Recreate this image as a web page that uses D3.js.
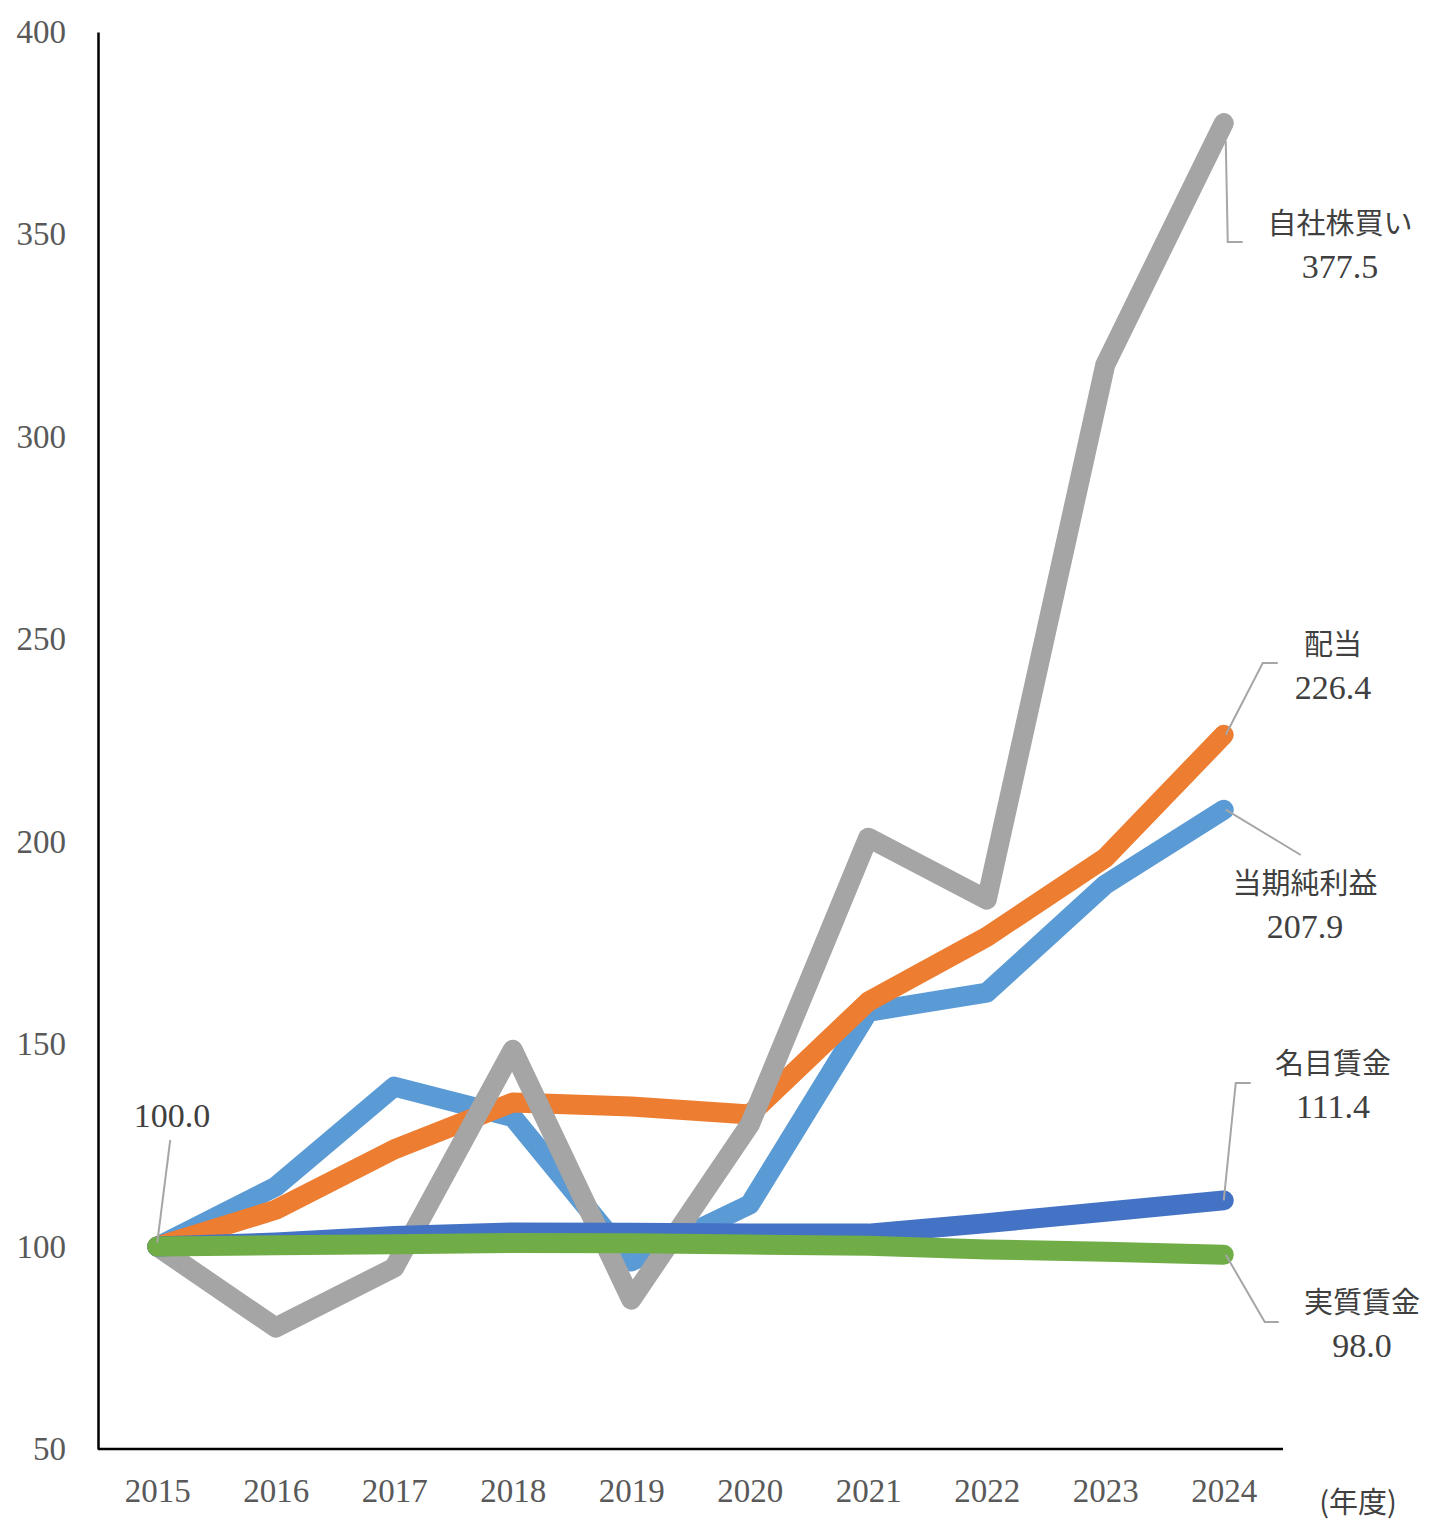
<!DOCTYPE html>
<html lang="ja">
<head>
<meta charset="utf-8">
<script src="https://cdn.jsdelivr.net/npm/d3@7"></script>
<style>
  html, body { margin: 0; padding: 0; background: #fff; }
  svg { display: block; }
  .num { font-family: "Liberation Serif", "Noto Sans CJK JP", serif; }
</style>
</head>
<body>
<svg id="chart"></svg>
<script>
const years = ["2015", "2016", "2017", "2018", "2019", "2020", "2021", "2022", "2023", "2024"];
const yTicks = [50, 100, 150, 200, 250, 300, 350, 400];

// 描画順 = Excel の系列順 (後ろほど上に重なる)
const seriesNames = ["当期純利益", "配当", "自社株買い", "名目賃金", "実質賃金"];
const netIncome = [100, 114.8, 139.5, 132.0, 96.3, 110.4, 158.0, 162.7, 189.4, 207.9];
const dividends = [100, 109.1, 124.0, 135.6, 134.6, 132.6, 160.5, 176.5, 196.0, 226.4];
const buybacks = [100, 80.0, 94.8, 148.6, 86.9, 130.1, 201.0, 185.7, 317.8, 377.5];
const nominalWage = [100, 101.0, 102.6, 103.5, 103.4, 103.2, 103.2, 105.8, 108.6, 111.4];
const realWage = [100, 100.3, 100.6, 100.9, 100.8, 100.5, 100.2, 99.3, 98.7, 98.0];
const seriesColors = ["#5b9bd5", "#ed7d31", "#a5a5a5", "#4472c4", "#70ad47"];

const width = 1430;
const height = 1524;
const margin = { top: 32, right: 147, bottom: 75, left: 98 };

const svg = d3.select("#chart").attr("width", width).attr("height", height);

const x = d3.scalePoint()
  .domain(years)
  .range([margin.left, width - margin.right])
  .padding(0.5);

const y = d3.scaleLinear()
  .domain([50, 400])
  .range([height - margin.bottom, margin.top]);

const allSeries = [netIncome, dividends, buybacks, nominalWage, realWage].map((values, i) => ({
  name: seriesNames[i],
  color: seriesColors[i],
  values,
}));

// axes
const yAxis = svg.append("g")
  .attr("transform", `translate(${margin.left},0)`)
  .call(d3.axisLeft(y).tickValues(yTicks).tickSize(0).tickPadding(32));
yAxis.select(".domain").attr("stroke", "#000").attr("stroke-width", 2.5);
yAxis.selectAll(".tick text")
  .attr("class", "num")
  .attr("fill", "#595959")
  .attr("font-size", 33);

const xAxis = svg.append("g")
  .attr("transform", `translate(0,${height - margin.bottom})`)
  .call(d3.axisBottom(x).tickSize(0).tickPadding(30));
xAxis.select(".domain")
  .attr("d", `M${margin.left},0H${width - margin.right}`)
  .attr("stroke", "#000")
  .attr("stroke-width", 2.5);
xAxis.selectAll(".tick text")
  .attr("class", "num")
  .attr("fill", "#595959")
  .attr("font-size", 33);

svg.append("text")
  .attr("x", 1358)
  .attr("y", 1513)
  .attr("text-anchor", "middle")
  .attr("fill", "#404040")
  .attr("font-size", 29)
  .attr("font-family", "'Noto Sans CJK JP', serif")
  .text("(年度)");

// lines
const line = d3.line()
  .x((d, i) => x(years[i]))
  .y((d) => y(d));

svg.append("g")
  .selectAll("path")
  .data(allSeries)
  .join("path")
  .attr("d", (s) => line(s.values))
  .attr("fill", "none")
  .attr("stroke", (s) => s.color)
  .attr("stroke-width", 20)
  .attr("stroke-linejoin", "round")
  .attr("stroke-linecap", "round");

// data labels with leader lines (offsets from the last point)
const last = years.length - 1;
const labelSpecs = [
  { series: 2, cx: 1340, ty: 234, leader: (px, py) => [[px + 2, py + 18], [px + 4, 242], [px + 19, 242]] },
  { series: 1, cx: 1333, ty: 655, leader: (px, py) => [[px + 2, py], [px + 39, 663], [px + 54, 663]] },
  { series: 0, cx: 1305, ty: 894, leader: (px, py) => [[px + 2, py], [px + 77, 855]] },
  { series: 3, cx: 1333, ty: 1074, leader: (px, py) => [[px, py], [px + 12, 1083], [px + 27, 1083]] },
  { series: 4, cx: 1362, ty: 1313, leader: (px, py) => [[px + 2, py], [px + 41, 1322], [px + 55, 1322]] },
];

const labelFont = "'Noto Sans CJK JP', serif";

const labels = svg.append("g");
labelSpecs.forEach((spec) => {
  const s = allSeries[spec.series];
  const px = x(years[last]);
  const py = y(s.values[last]);
  labels.append("path")
    .attr("d", d3.line()(spec.leader(px, py)))
    .attr("fill", "none")
    .attr("stroke", "#a6a6a6")
    .attr("stroke-width", 2);
  labels.append("text")
    .attr("x", spec.cx)
    .attr("y", spec.ty)
    .attr("text-anchor", "middle")
    .attr("fill", "#404040")
    .attr("font-size", 29)
    .attr("font-family", labelFont)
    .text(s.name);
  labels.append("text")
    .attr("class", "num")
    .attr("x", spec.cx)
    .attr("y", spec.ty + 44)
    .attr("text-anchor", "middle")
    .attr("fill", "#404040")
    .attr("font-size", 34)
    .text(s.values[last].toFixed(1));
});

// 2015 start label
const x0 = x(years[0]);
const y0 = y(realWage[0]);
labels.append("path")
  .attr("d", d3.line()([[x0, y0 - 4], [x0 + 13, 1140]]))
  .attr("stroke", "#a6a6a6")
  .attr("stroke-width", 2);
labels.append("text")
  .attr("class", "num")
  .attr("x", 172)
  .attr("y", 1127)
  .attr("text-anchor", "middle")
  .attr("fill", "#404040")
  .attr("font-size", 34)
  .text(realWage[0].toFixed(1));
</script>
</body>
</html>
